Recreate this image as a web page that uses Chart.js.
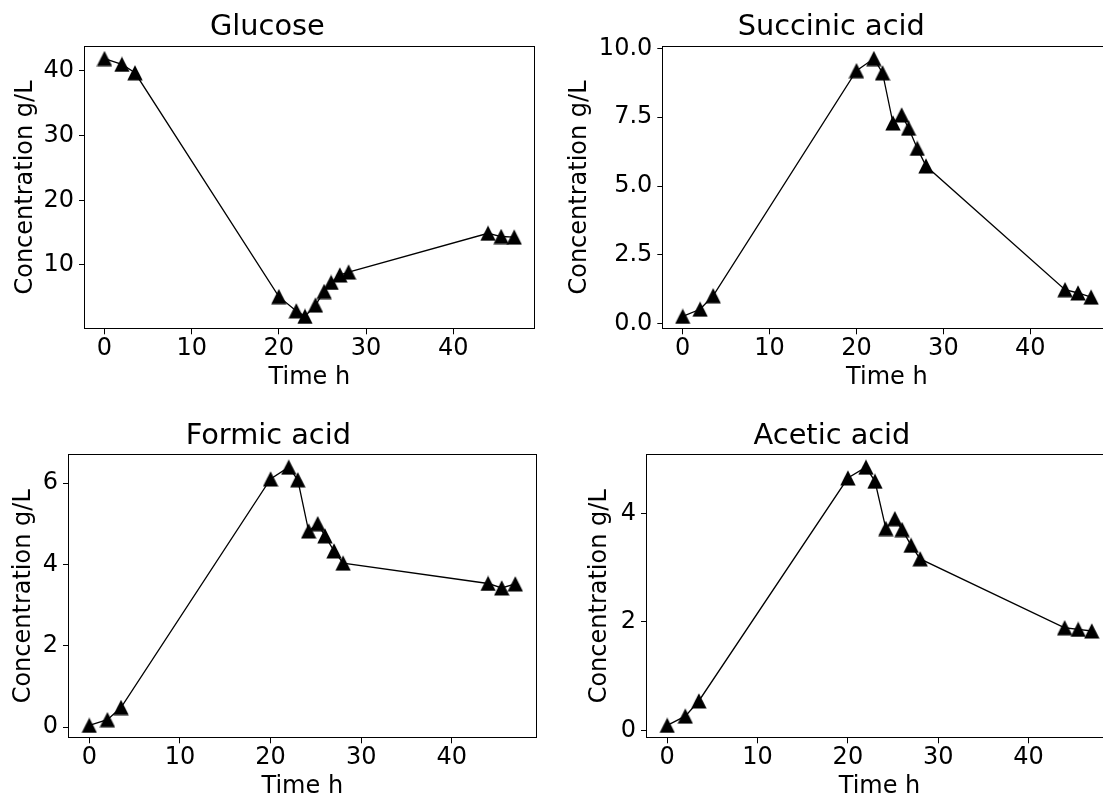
<!DOCTYPE html>
<html>
<head>
<meta charset="utf-8">
<script src="https://cdn.jsdelivr.net/npm/chart.js@4.4.1/dist/chart.umd.min.js"></script>
<style>
  html, body { margin: 0; padding: 0; background: #ffffff; width: 1103px; height: 798px; overflow: hidden; }
  .panel { position: absolute; overflow: hidden; }
  .panel canvas { display: block; }
</style>
</head>
<body>
<div class="panel" id="wrap1"><canvas id="c1"></canvas></div>
<div class="panel" id="wrap2"><canvas id="c2"></canvas></div>
<div class="panel" id="wrap3"><canvas id="c3"></canvas></div>
<div class="panel" id="wrap4"><canvas id="c4"></canvas></div>
<script>
// Sampling times (h) shared by all four measurements
const timeH = [0, 2, 3.5, 20, 22, 23, 24.2, 25.2, 26, 27, 28, 44, 45.5, 47];

// Concentrations in g/L
const glucose      = [41.9, 41.0, 39.7, 5.1, 2.9, 2.05, 3.8, 5.9, 7.3, 8.45, 8.9, 14.9, 14.4, 14.3];
const succinicAcid = [0.27, 0.53, 1.02, 9.19, 9.63, 9.11, 7.29, 7.58, 7.1, 6.37, 5.73, 1.24, 1.12, 0.97];
const formicAcid   = [0.04, 0.18, 0.48, 6.1, 6.39, 6.08, 4.82, 5.0, 4.7, 4.33, 4.03, 3.53, 3.42, 3.52];
const aceticAcid   = [0.09, 0.26, 0.54, 4.65, 4.85, 4.59, 3.72, 3.9, 3.70, 3.41, 3.16, 1.89, 1.86, 1.83];

// Tick values and labels
const xTicks = [0, 10, 20, 30, 40];
const glucoseTicks = [10, 20, 30, 40];
const succinicTicks = [0, 2.5, 5, 7.5, 10];
const succinicTickLabels = ['0.0', '2.5', '5.0', '7.5', '10.0'];
const formicTicks = [0, 2, 4, 6];
const aceticTicks = [0, 2, 4];

const panelTitles = ['Glucose', 'Succinic acid', 'Formic acid', 'Acetic acid'];
const xLabel = 'Time h';
const yLabel = 'Concentration g/L';

const FONT = "'DejaVu Sans', 'Liberation Sans', sans-serif";
const TICK_SIZE = 24, LABEL_SIZE = 24, TITLE_SIZE = 28.8, LH = 1.2;

// Filled triangle marker, apex up, centred in its own box
function triangleMarker(size) {
  const c = document.createElement('canvas');
  c.width = size; c.height = size;
  const g = c.getContext('2d');
  g.fillStyle = '#000000';
  g.beginPath();
  g.moveTo(size / 2, 0.2);
  g.lineTo(size - 0.3, size - 0.5);
  g.lineTo(0.3, size - 0.5);
  g.closePath();
  g.fill();
  return c;
}
const marker = triangleMarker(16);

// Axes frame on all four sides
const framePlugin = {
  id: 'frame',
  afterDatasetsDraw(chart) {
    const { ctx, chartArea: a } = chart;
    ctx.save();
    ctx.strokeStyle = '#000000';
    ctx.lineWidth = 1;
    const l = Math.round(a.left) + 0.5, r = Math.round(a.right) - 0.5;
    const t = Math.round(a.top) + 0.5, b = Math.round(a.bottom) - 0.5;
    ctx.strokeRect(l, t, r - l, b - t);
    ctx.restore();
  }
};

function padRange(values) {
  const lo = Math.min(...values), hi = Math.max(...values);
  const m = (hi - lo) * 0.05;
  return [lo - m, hi + m];
}

// box: [left, top, visible width, height]; the canvas may be wider than the visible box,
// so a plot area that runs past the page edge is simply cut off there
function makePanel(opt) {
  const wrap = document.getElementById(opt.wrap);
  const W = opt.canvasW, H = opt.box[3];
  wrap.style.left = opt.box[0] + 'px';
  wrap.style.top = opt.box[1] + 'px';
  wrap.style.width = opt.box[2] + 'px';
  wrap.style.height = H + 'px';
  const canvas = document.getElementById(opt.canvas);
  canvas.width = W; canvas.height = H;
  canvas.style.width = W + 'px'; canvas.style.height = H + 'px';

  const a = opt.area;
  const titleHalf = TITLE_SIZE * LH / 2;
  const labelHalf = LABEL_SIZE * LH / 2;
  const [xMin, xMax] = padRange(timeH);
  const [yMin, yMax] = padRange(opt.values);

  const points = timeH.map((t, i) => ({ x: t, y: opt.values[i] }));

  const chart = new Chart(canvas, {
    type: 'scatter',
    data: {
      datasets: [{
        data: points,
        showLine: true,
        borderColor: '#000000',
        borderWidth: 1.3,
        backgroundColor: '#000000',
        pointStyle: marker,
        pointRadius: 7,
        pointHoverRadius: 7,
        tension: 0,
        clip: false
      }]
    },
    options: {
      responsive: false,
      animation: false,
      devicePixelRatio: 1,
      events: [],
      layout: { padding: { left: 0, top: 0, right: W - a.right, bottom: 0 } },
      plugins: {
        legend: { display: false },
        tooltip: { enabled: false },
        title: {
          display: true,
          text: opt.title,
          color: '#000000',
          font: { family: FONT, size: TITLE_SIZE, weight: 'normal', lineHeight: LH },
          padding: { top: opt.titleMid - titleHalf, bottom: a.top - opt.titleMid - titleHalf }
        }
      },
      scales: {
        x: {
          type: 'linear',
          min: xMin, max: xMax,
          afterFit(s) { s.height = H - a.bottom; },
          afterBuildTicks(s) { s.ticks = xTicks.map(v => ({ value: v })); },
          grid: { drawOnChartArea: false, drawTicks: true, tickLength: 5, color: '#000000', lineWidth: 1 },
          border: { display: false },
          ticks: {
            color: '#000000', padding: 0, maxRotation: 0, autoSkip: false,
            font: { family: FONT, size: TICK_SIZE, lineHeight: LH },
            callback: v => String(v)
          },
          title: {
            display: true, text: xLabel, color: '#000000',
            font: { family: FONT, size: LABEL_SIZE, lineHeight: LH },
            padding: { top: 0, bottom: H - opt.xTitleMid - labelHalf }
          }
        },
        y: {
          type: 'linear',
          min: yMin, max: yMax,
          afterFit(s) { s.width = a.left; },
          afterBuildTicks(s) { s.ticks = opt.ticks.map(v => ({ value: v })); },
          grid: { drawOnChartArea: false, drawTicks: true, tickLength: 5, color: '#000000', lineWidth: 1 },
          border: { display: false },
          ticks: {
            color: '#000000', padding: 5, autoSkip: false,
            font: { family: FONT, size: TICK_SIZE, lineHeight: LH },
            callback: (v, i) => opt.tickLabels ? opt.tickLabels[i] : String(v)
          },
          title: {
            display: true, text: yLabel, color: '#000000',
            font: { family: FONT, size: LABEL_SIZE, lineHeight: LH },
            padding: { top: opt.yTitleMid - labelHalf, bottom: 0 }
          }
        }
      }
    },
    plugins: [framePlugin]
  });

  // The layout may reserve extra room at the edges; shift the padding so the
  // plot area lands on the intended rectangle, then lay out again
  const ca = chart.chartArea;
  const p = chart.config.options.layout.padding;
  chart.config.options.layout.padding = {
    left: p.left + (a.left - ca.left),
    top: p.top + (a.top - ca.top),
    right: p.right + (ca.right - a.right),
    bottom: p.bottom
  };
  chart.update();
  return chart;
}

makePanel({
  wrap: 'wrap1', canvas: 'c1', box: [0, 0, 551, 399], canvasW: 551,
  area: { left: 84, top: 45.7, right: 534.7, bottom: 329.3 },
  titleMid: 27.2, xTitleMid: 378, yTitleMid: 25.5,
  title: panelTitles[0], values: glucose, ticks: glucoseTicks
});
makePanel({
  wrap: 'wrap2', canvas: 'c2', box: [551, 0, 552, 399], canvasW: 600,
  area: { left: 111.3, top: 45.7, right: 560.5, bottom: 329.3 },
  titleMid: 27.2, xTitleMid: 378, yTitleMid: 28.8,
  title: panelTitles[1], values: succinicAcid, ticks: succinicTicks, tickLabels: succinicTickLabels
});
makePanel({
  wrap: 'wrap3', canvas: 'c3', box: [0, 399, 551, 399], canvasW: 551,
  area: { left: 68, top: 55.3, right: 536.6, bottom: 339.3 },
  titleMid: 37.5, xTitleMid: 388, yTitleMid: 24,
  title: panelTitles[2], values: formicAcid, ticks: formicTicks
});
makePanel({
  wrap: 'wrap4', canvas: 'c4', box: [551, 399, 552, 399], canvasW: 600,
  area: { left: 95, top: 55.3, right: 562, bottom: 339.3 },
  titleMid: 37.5, xTitleMid: 388, yTitleMid: 48.5,
  title: panelTitles[3], values: aceticAcid, ticks: aceticTicks
});
</script>
</body>
</html>
